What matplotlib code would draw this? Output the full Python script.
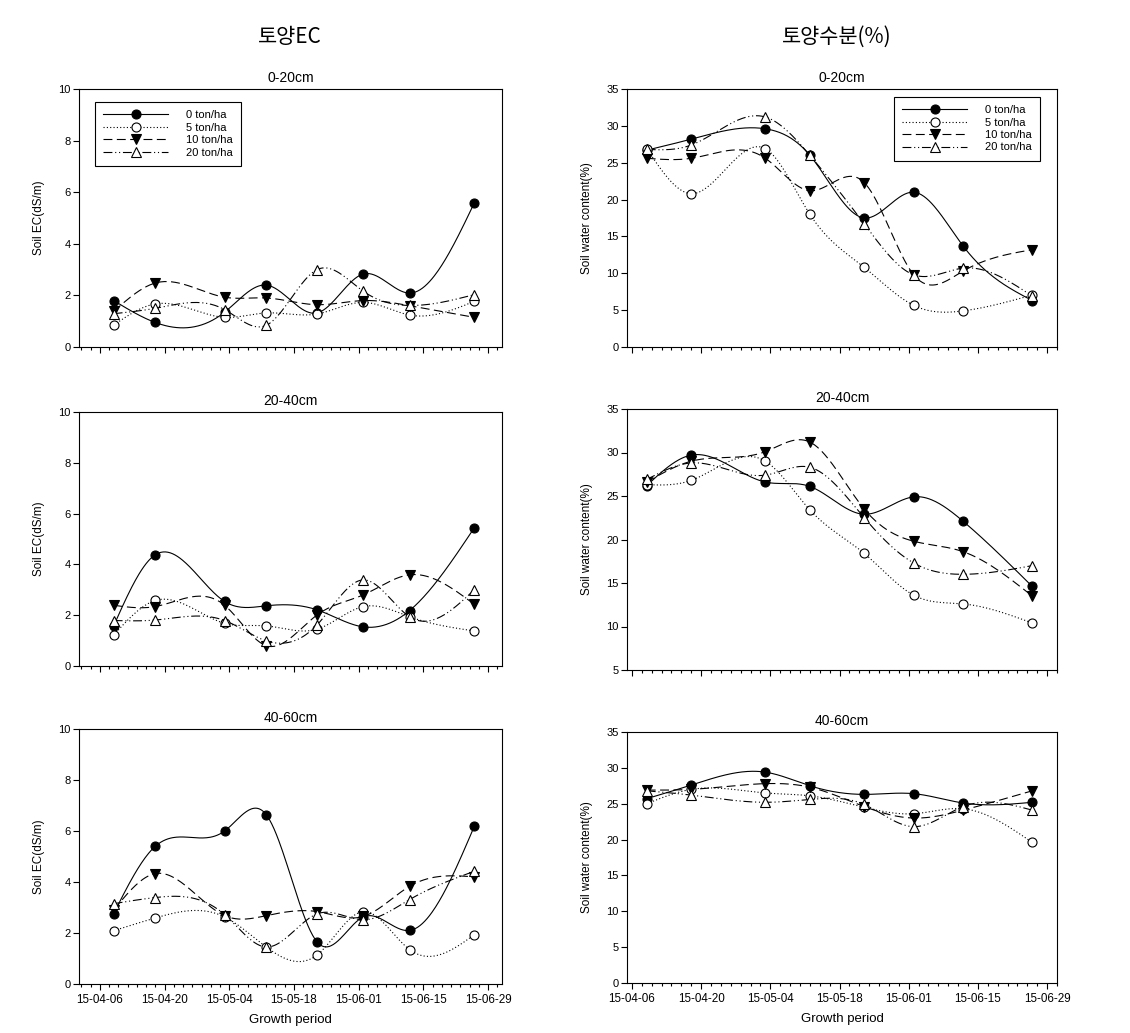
import numpy as np
import pandas as pd
import matplotlib
matplotlib.use("Agg")
import matplotlib.pyplot as plt
import matplotlib.dates as mdates
from matplotlib.lines import Line2D

plt.rcParams['font.family'] = ['Liberation Sans', 'Noto Sans CJK KR', 'DejaVu Sans']

# sampling dates
dates = ['2015-04-09', '2015-04-18', '2015-05-03', '2015-05-12',
         '2015-05-23', '2015-06-02', '2015-06-12', '2015-06-26']

labels = ['0 ton/ha', '5 ton/ha', '10 ton/ha', '20 ton/ha']
depths = ['0-20cm', '20-40cm', '40-60cm']

# Soil EC (dS/m)
ec_0_20_t0 = [1.80, 0.95, 1.35, 2.40, 1.32, 2.83, 2.09, 5.58]
ec_0_20_t5 = [0.85, 1.67, 1.15, 1.32, 1.28, 1.73, 1.24, 1.77]
ec_0_20_t10 = [1.38, 2.48, 1.93, 1.90, 1.64, 1.80, 1.60, 1.15]
ec_0_20_t20 = [1.29, 1.50, 1.45, 0.84, 3.00, 2.16, 1.61, 2.03]

ec_20_40_t0 = [1.58, 4.38, 2.54, 2.37, 2.21, 1.54, 2.18, 5.44]
ec_20_40_t5 = [1.22, 2.58, 1.68, 1.58, 1.45, 2.34, 1.94, 1.38]
ec_20_40_t10 = [2.39, 2.34, 2.39, 0.80, 2.01, 2.80, 3.59, 2.43]
ec_20_40_t20 = [1.79, 1.81, 1.79, 0.99, 1.62, 3.39, 1.94, 3.00]

ec_40_60_t0 = [2.76, 5.40, 6.00, 6.64, 1.65, 2.63, 2.10, 6.18]
ec_40_60_t5 = [2.09, 2.59, 2.63, 1.45, 1.14, 2.84, 1.35, 1.93]
ec_40_60_t10 = [2.90, 4.33, 2.68, 2.68, 2.84, 2.65, 3.83, 4.20]
ec_40_60_t20 = [3.15, 3.39, 2.72, 1.45, 2.75, 2.52, 3.31, 4.42]

# Soil water content (%)
sw_0_20_t0 = [26.7, 28.2, 29.6, 26.0, 17.5, 21.0, 13.7, 6.3]
sw_0_20_t5 = [26.9, 20.8, 26.9, 18.0, 10.8, 5.65, 4.9, 7.05]
sw_0_20_t10 = [25.6, 25.6, 25.6, 21.2, 22.3, 9.8, 10.3, 13.2]
sw_0_20_t20 = [26.8, 27.4, 31.2, 26.0, 16.7, 9.8, 10.7, 6.9]

sw_20_40_t0 = [26.2, 29.7, 26.6, 26.1, 22.9, 24.9, 22.1, 14.6]
sw_20_40_t5 = [26.3, 26.8, 29.0, 23.4, 18.4, 13.6, 12.6, 10.4]
sw_20_40_t10 = [26.6, 29.0, 30.1, 31.2, 23.5, 19.8, 18.6, 13.5]
sw_20_40_t20 = [26.9, 28.8, 27.4, 28.3, 22.5, 17.3, 16.0, 17.0]

sw_40_60_t0 = [25.7, 27.6, 29.4, 27.5, 26.3, 26.4, 25.1, 25.2]
sw_40_60_t5 = [25.0, 27.0, 26.5, 26.1, 24.5, 23.6, 24.3, 19.6]
sw_40_60_t10 = [26.9, 27.0, 27.8, 27.3, 24.6, 23.0, 24.1, 26.8]
sw_40_60_t20 = [26.8, 26.2, 25.2, 25.6, 24.9, 21.8, 24.6, 24.1]

ec_data = [[ec_0_20_t0, ec_0_20_t5, ec_0_20_t10, ec_0_20_t20],
           [ec_20_40_t0, ec_20_40_t5, ec_20_40_t10, ec_20_40_t20],
           [ec_40_60_t0, ec_40_60_t5, ec_40_60_t10, ec_40_60_t20]]
sw_data = [[sw_0_20_t0, sw_0_20_t5, sw_0_20_t10, sw_0_20_t20],
           [sw_20_40_t0, sw_20_40_t5, sw_20_40_t10, sw_20_40_t20],
           [sw_40_60_t0, sw_40_60_t5, sw_40_60_t10, sw_40_60_t20]]

styles = [
    dict(ls='-', marker='o', mfc='black'),
    dict(ls=(0, (1, 2)), marker='o', mfc='white'),
    dict(ls=(0, (8, 4)), marker='v', mfc='black'),
    dict(ls=(0, (8, 2.5, 1, 2.5, 1, 2.5)), marker='^', mfc='white'),
]


def natural_spline(x, y, num=300):
    x = np.asarray(x, float)
    y = np.asarray(y, float)
    n = len(x)
    h = np.diff(x)
    A = np.zeros((n, n))
    r = np.zeros(n)
    A[0, 0] = A[-1, -1] = 1
    for i in range(1, n - 1):
        A[i, i - 1] = h[i - 1]
        A[i, i] = 2 * (h[i - 1] + h[i])
        A[i, i + 1] = h[i]
        r[i] = 6 * ((y[i + 1] - y[i]) / h[i] - (y[i] - y[i - 1]) / h[i - 1])
    M = np.linalg.solve(A, r)
    xs = np.linspace(x[0], x[-1], num)
    idx = np.clip(np.searchsorted(x, xs) - 1, 0, n - 2)
    x0, x1 = x[idx], x[idx + 1]
    hh = x1 - x0
    a = (x1 - xs) / hh
    b = (xs - x0) / hh
    ys = a * y[idx] + b * y[idx + 1] + ((a ** 3 - a) * M[idx] + (b ** 3 - b) * M[idx + 1]) * hh ** 2 / 6
    return xs, ys


W, H = 1130, 1033
fig = plt.figure(figsize=(W / 100, H / 100), dpi=100)


def px_axes(l, t, r, b):
    return fig.add_axes([l / W, 1 - b / H, (r - l) / W, (b - t) / H])


xnum = mdates.date2num(pd.to_datetime(dates))
major = mdates.date2num(pd.date_range('2015-04-06', '2015-06-29', freq='14D'))
minor = mdates.date2num(pd.date_range('2015-03-29', '2015-07-07', freq='2D'))

left_boxes = [(79, 89, 502, 347), (79, 412, 502, 666), (79, 729, 502, 984)]
right_boxes = [(627, 89, 1057, 347), (627, 409, 1057, 670), (627, 732, 1057, 983)]


def draw_panel(box, series, ylim, yticks, ylabel, xlim, row, legend_loc):
    ax = px_axes(*box)
    for vals, st in zip(series, styles):
        xs, ys = natural_spline(xnum, vals)
        ax.plot(xs, ys, color='black', lw=0.8, ls=st['ls'], zorder=2)
        ax.plot(xnum, vals, ls='none', marker=st['marker'], ms=6.5, mfc=st['mfc'],
                mec='black', mew=0.8, zorder=3)
    ax.set_yticks(yticks)
    ax.set_xticks(major)
    ax.set_xticks(minor, minor=True)
    # limits after the ticks, otherwise the minor ticks widen the view
    ax.set_xlim(mdates.date2num(pd.to_datetime(xlim[0])), mdates.date2num(pd.to_datetime(xlim[1])))
    ax.set_ylim(*ylim)
    ax.xaxis.set_major_formatter(mdates.DateFormatter('%y-%m-%d'))
    ax.tick_params(axis='both', which='major', direction='out', length=4, width=0.8, labelsize=8)
    ax.tick_params(axis='x', which='major', labelsize=8.4)
    ax.tick_params(axis='x', which='minor', direction='out', length=2.5, width=0.8)
    ax.tick_params(axis='y', which='major', pad=2)
    for sp in ax.spines.values():
        sp.set_linewidth(0.8)
    if row < 2:
        ax.tick_params(axis='x', labelbottom=False)
    else:
        ax.set_xlabel('Growth period', fontsize=9.5)
        ax.xaxis.set_label_coords(0.5, -0.118)
    ax.set_ylabel(ylabel, fontsize=8.5)
    ax.yaxis.set_label_coords(-0.08, 0.5)
    ax.set_title(depths[row], fontsize=10, pad=5)
    if legend_loc is not None:
        handles = [Line2D([0], [0], color='black', lw=0.8, ls=st['ls'], marker=st['marker'],
                          ms=6.5, mfc=st['mfc'], mec='black', mew=0.8) for st in styles]
        loc, anchor = legend_loc
        leg = ax.legend(handles, labels, loc=loc, bbox_to_anchor=anchor, fontsize=8,
                        handlelength=5.8, handletextpad=1.6, labelspacing=0.22,
                        fancybox=False, edgecolor='black', framealpha=1,
                        borderpad=0.75, borderaxespad=0, numpoints=1)
        leg.get_frame().set_linewidth(0.8)
    return ax


for row in range(3):
    draw_panel(left_boxes[row], ec_data[row], (0, 10), [0, 2, 4, 6, 8, 10], 'Soil EC(dS/m)',
               ('2015-04-01 12:00', '2015-07-02'), row,
               ('upper left', (0.038, 0.95)) if row == 0 else None)
    if row == 1:
        ylim, yt = (5, 35), [5, 10, 15, 20, 25, 30, 35]
    else:
        ylim, yt = (0, 35), [0, 5, 10, 15, 20, 25, 30, 35]
    draw_panel(right_boxes[row], sw_data[row], ylim, yt, 'Soil water content(%)',
               ('2015-04-05', '2015-07-01'), row,
               ('upper right', (0.96, 0.97)) if row == 0 else None)

fig.text(290 / W, 1 - 37 / H, '토양EC', ha='center', va='center', fontsize=15,
         family=['Noto Sans CJK KR', 'DejaVu Sans'])
fig.text(837 / W, 1 - 37 / H, '토양수분(%)', ha='center', va='center', fontsize=15,
         family=['Noto Sans CJK KR', 'DejaVu Sans'])

fig.savefig('out.png', dpi=100)
